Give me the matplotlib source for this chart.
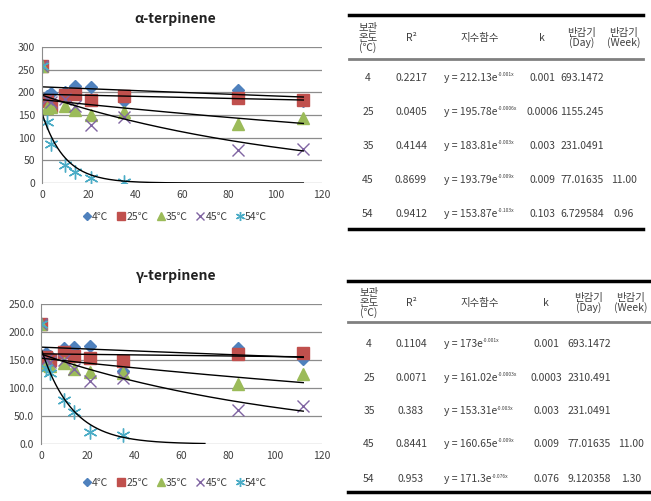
import matplotlib.pyplot as plt
import numpy as np

plt.rcParams['font.family'] = ['Noto Sans CJK KR', 'DejaVu Sans']

days = [0, 2, 4, 10, 14, 21, 35, 84, 112]
days54 = [0, 2, 4, 10, 14, 21, 35]
temps = ["4℃", "25℃", "35℃", "45℃", "54℃"]

# alpha-terpinene
a4 = [258, 191, 198, 200, 215, 212, 180, 206, 180]
a25 = [258, 180, 170, 195, 196, 182, 191, 188, 184]
a35 = [258, 165, 168, 170, 162, 149, 157, 131, 143]
a45 = [258, 185, 178, 185, 170, 129, 146, 73, 75]
a54 = [258, 134, 87, 39, 24, 11, 3]
a_coef = [212.13, 195.78, 183.81, 193.79, 153.87]
a_k = [0.001, 0.0006, 0.003, 0.009, 0.103]

# gamma-terpinene
g4 = [215, 163, 158, 171, 173, 175, 130, 171, 152]
g25 = [215, 156, 150, 165, 158, 153, 149, 161, 162]
g35 = [215, 141, 140, 144, 134, 128, 127, 107, 125]
g45 = [215, 150, 147, 150, 134, 112, 118, 61, 68]
g54 = [215, 135, 127, 79, 58, 22, 16]
g_coef = [173, 161.02, 153.31, 160.65, 171.3]
g_k = [0.001, 0.0003, 0.003, 0.009, 0.076]

# tables
hdr = ["보관\n온도\n(℃)", "R²", "지수함수", "k", "반감기\n(Day)", "반감기\n(Week)"]
a_r2 = ["0.2217", "0.0405", "0.4144", "0.8699", "0.9412"]
a_base = ["y = 212.13e", "y = 195.78e", "y = 183.81e", "y = 193.79e", "y = 153.87e"]
a_exp = ["-0.001x", "-0.0006x", "-0.003x", "-0.009x", "-0.103x"]
a_kstr = ["0.001", "0.0006", "0.003", "0.009", "0.103"]
a_day = ["693.1472", "1155.245", "231.0491", "77.01635", "6.729584"]
a_week = ["", "", "", "11.00", "0.96"]
g_r2 = ["0.1104", "0.0071", "0.383", "0.8441", "0.953"]
g_base = ["y = 173e", "y = 161.02e", "y = 153.31e", "y = 160.65e", "y = 171.3e"]
g_exp = ["-0.001x", "-0.0003x", "-0.003x", "-0.009x", "-0.076x"]
g_kstr = ["0.001", "0.0003", "0.003", "0.009", "0.076"]
g_day = ["693.1472", "2310.491", "231.0491", "77.01635", "9.120358"]
g_week = ["", "", "", "11.00", "1.30"]
rows_t = ["4", "25", "35", "45", "54"]

colors = ["#4F81BD", "#C0504D", "#9BBB59", "#8064A2", "#4BACC6"]
markers = ["D", "s", "^", "x", (6, 2, 0)]
msizes = [6.5, 8, 8.5, 9, 10]

W, H = 651, 501
fig = plt.figure(figsize=(W / 100, H / 100), dpi=100)


def px(x, y):
    return x / W, 1 - y / H


def chart(rect, title, series, xs_list, coef, kk, ymax, fmt, tend, ttl_y, leg_y):
    l, t, r, b = rect
    ax = fig.add_axes([l / W, 1 - b / H, (r - l) / W, (b - t) / H])
    for i, ys in enumerate(series):
        ax.plot(xs_list[i], ys, linestyle="none", marker=markers[i], color=colors[i],
                markersize=msizes[i], markeredgewidth=1.0, label=temps[i])
    for i in range(5):
        xx = np.linspace(0, tend[i], 200)
        ax.plot(xx, coef[i] * np.exp(-kk[i] * xx), color="black", lw=1.0)
    ax.set_xlim(0, 120)
    ax.set_ylim(0, ymax)
    ax.set_xticks(range(0, 121, 20))
    ax.set_yticks(np.arange(0, ymax + 1, 50))
    ax.set_yticklabels([fmt.format(v) for v in np.arange(0, ymax + 1, 50)])
    ax.yaxis.grid(True, color="#8C8C8C", lw=0.9)
    ax.set_axisbelow(True)
    for s in ["top", "right", "bottom"]:
        ax.spines[s].set_visible(False)
    ax.spines["left"].set_color("#8C8C8C")
    ax.tick_params(length=0, labelsize=7.5, colors="#404040", pad=5)
    fig.text(*px(175, ttl_y), title, ha="center", va="center", fontsize=10,
             fontweight="bold", color="#222222")
    leg = ax.legend(loc="center", bbox_to_anchor=(175 / W, 1 - leg_y / H),
                    bbox_transform=fig.transFigure, ncol=5, frameon=False,
                    fontsize=7.5, handlelength=0.8, handletextpad=0.1,
                    columnspacing=0.8, markerscale=0.65)
    for tx in leg.get_texts():
        tx.set_color("#404040")
    return ax


ax1 = chart((42, 47, 322, 183), "α-terpinene", [a4, a25, a35, a45, a54],
            [days] * 4 + [days54], a_coef, a_k, 300, "{:.0f}", [112] * 5, 19, 217)
chart((41, 304, 322, 444), "γ-terpinene", [g4, g25, g35, g45, g54],
      [days] * 4 + [days54], g_coef, g_k, 250, "{:.1f}", [112] * 4 + [70], 276, 483)


def table(x0, x1, ytop, ysep, ybot, cols, hdr_y, row_ys, r2, base, exps, ks, dayv, week):
    fig.add_artist(plt.Line2D([x0 / W, x1 / W], [1 - ytop / H] * 2, color="black", lw=2.5))
    fig.add_artist(plt.Line2D([x0 / W, x1 / W], [1 - ysep / H] * 2, color="#808080", lw=2))
    fig.add_artist(plt.Line2D([x0 / W, x1 / W], [1 - ybot / H] * 2, color="black", lw=2.5))
    tc = "#404040"
    fs = 7.5
    for j, h in enumerate(hdr):
        fig.text(*px(cols[j], hdr_y), h, ha="center", va="center", fontsize=7.5,
                 color=tc, linespacing=0.9)
    for i, y in enumerate(row_ys):
        fig.text(*px(cols[0], y), rows_t[i], ha="center", va="center", fontsize=fs, color=tc)
        fig.text(*px(cols[1], y), r2[i], ha="center", va="center", fontsize=fs, color=tc)
        bt = fig.text(*px(cols[2] - 36, y), base[i], ha="left", va="center", fontsize=fs, color=tc)
        ax1.annotate(exps[i], xy=(1.0, 0.55), xycoords=bt, fontsize=3.6, color=tc,
                     ha="left", va="bottom", annotation_clip=False)
        fig.text(*px(cols[3], y), ks[i], ha="center", va="center", fontsize=fs, color=tc)
        fig.text(*px(cols[4], y), dayv[i], ha="center", va="center", fontsize=fs, color=tc)
        fig.text(*px(cols[5], y), week[i], ha="center", va="center", fontsize=fs, color=tc)


table(349, 643, 15, 59, 229, [368, 411, 480, 542, 582, 624], 38,
      [78, 112, 146, 180, 214], a_r2, a_base, a_exp, a_kstr, a_day, a_week)
table(348, 650, 281, 322, 492, [369, 411, 480, 546, 589, 631], 303,
      [344, 378, 411, 444, 479], g_r2, g_base, g_exp, g_kstr, g_day, g_week)

fig.savefig("out.png", dpi=100)
